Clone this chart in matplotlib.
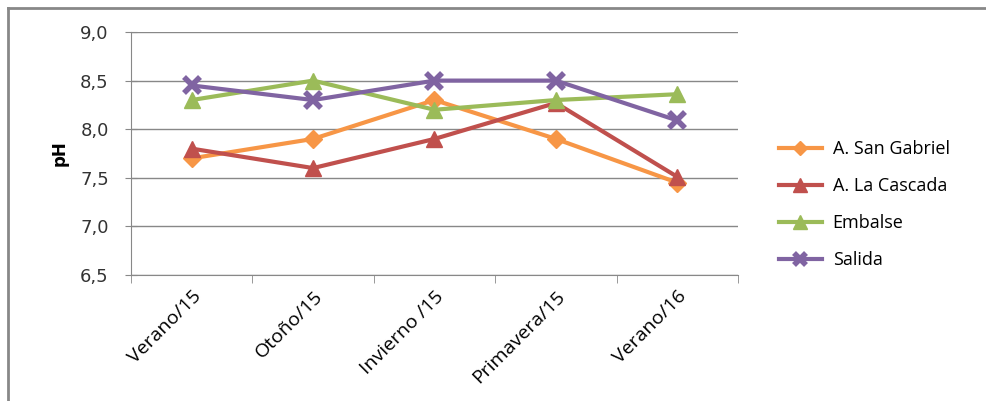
import matplotlib.pyplot as plt
from matplotlib.lines import Line2D

seasons = ['Verano/15', 'Otoño/15', 'Invierno /15', 'Primavera/15', 'Verano/16']
san_gabriel = [7.7, 7.9, 8.3, 7.9, 7.45]
la_cascada = [7.8, 7.6, 7.9, 8.27, 7.51]
embalse = [8.3, 8.5, 8.2, 8.3, 8.36]
salida = [8.45, 8.3, 8.5, 8.5, 8.09]

fig = plt.figure(figsize=(9.87, 4.01), dpi=100)
ax = fig.add_axes([131/987, 1 - 275/401, 607/987, 243/401])

x = range(len(seasons))
ax.plot(x, san_gabriel, color='#f79646', lw=3, marker='D', ms=9, label='A. San Gabriel')
ax.plot(x, la_cascada, color='#c0504d', lw=3, marker='^', ms=12, label='A. La Cascada')
ax.plot(x, embalse, color='#9bbb59', lw=3, marker='^', ms=12, label='Embalse')
ax.plot(x, salida, color='#8064a2', lw=3, marker='x', ms=11, mew=4, label='Salida')

ax.set_xlim(-0.5, 4.5)
ax.set_ylim(6.5, 9.0)
ax.set_yticks([6.5, 7.0, 7.5, 8.0, 8.5, 9.0])
ax.set_yticklabels(['6,5', '7,0', '7,5', '8,0', '8,5', '9,0'], fontsize=13, color='#333333')
ax.set_xticks(list(x))
ax.set_xticklabels(seasons, rotation=45, ha='right', rotation_mode='anchor',
                   fontsize=14, family='Open Sans')
ax.tick_params(axis='x', length=0, pad=9)
ax.set_xticks([i - 0.5 for i in range(6)], minor=True)
ax.tick_params(axis='x', which='minor', length=6, color='#888888', direction='out')
ax.tick_params(axis='y', length=8, color='#888888', direction='inout', pad=12)

ax.grid(axis='y', color='#888888', lw=1)
ax.set_axisbelow(True)
for s in ['top', 'right']:
    ax.spines[s].set_visible(False)
for s in ['left', 'bottom']:
    ax.spines[s].set_color('#888888')

ax.set_ylabel('pH', fontsize=12, fontweight='bold', labelpad=8)

ax.legend(loc='center left', bbox_to_anchor=(1.04, 0.29), frameon=False,
          labelspacing=1.05, handlelength=2.4, handletextpad=0.6, markerscale=0.8,
          prop={'family': 'Open Sans', 'size': 13})

# outer chart frame (only top and left edges visible)
fig.add_artist(Line2D([8/987, 1], [1 - 8/401] * 2, color='#888888', lw=2))
fig.add_artist(Line2D([8/987] * 2, [0, 1 - 8/401], color='#888888', lw=2))

fig.savefig('out.png', dpi=100)
